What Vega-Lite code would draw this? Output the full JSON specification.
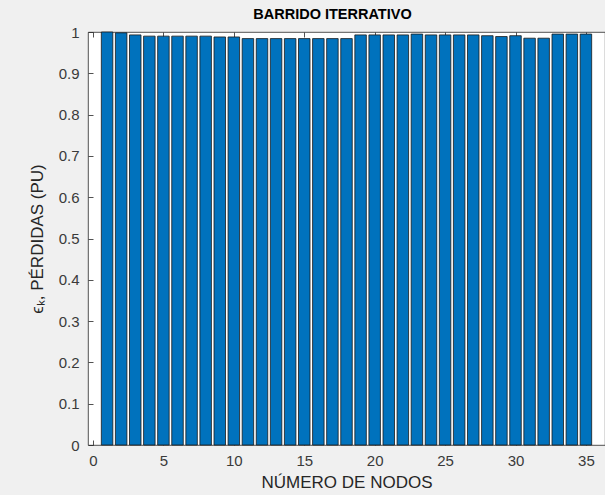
{
  "$schema": "https://vega.github.io/schema/vega-lite/v6.json",
  "autosize": "none",
  "width": 517,
  "height": 413,
  "padding": {"left": 88, "top": 32, "right": 0, "bottom": 50},
  "background": "#f0f0f0",
  "config": {
    "view": {"fill": "white", "stroke": "#262626", "strokeWidth": 0.8},
    "font": "Liberation Sans",
    "axis": {"grid": false, "domain": false, "tickColor": "#262626", "tickWidth": 0.8, "labelColor": "#3a3a3a", "labelFontSize": 15, "titleFontSize": 17, "titleFontWeight": "normal", "titleColor": "#262626"}
  },
  "title": {"text": "BARRIDO ITERRATIVO", "fontSize": 14.5, "fontWeight": "bold", "color": "#000000", "anchor": "middle", "offset": 3, "dx": -14, "font": "Liberation Sans"},
  "data": {"values": [
    {"nodo": 1, "perdidas": 1.0},
    {"nodo": 2, "perdidas": 0.998},
    {"nodo": 3, "perdidas": 0.993},
    {"nodo": 4, "perdidas": 0.99},
    {"nodo": 5, "perdidas": 0.99},
    {"nodo": 6, "perdidas": 0.99},
    {"nodo": 7, "perdidas": 0.99},
    {"nodo": 8, "perdidas": 0.99},
    {"nodo": 9, "perdidas": 0.988},
    {"nodo": 10, "perdidas": 0.988},
    {"nodo": 11, "perdidas": 0.984},
    {"nodo": 12, "perdidas": 0.984},
    {"nodo": 13, "perdidas": 0.984},
    {"nodo": 14, "perdidas": 0.984},
    {"nodo": 15, "perdidas": 0.984},
    {"nodo": 16, "perdidas": 0.984},
    {"nodo": 17, "perdidas": 0.984},
    {"nodo": 18, "perdidas": 0.984},
    {"nodo": 19, "perdidas": 0.993},
    {"nodo": 20, "perdidas": 0.993},
    {"nodo": 21, "perdidas": 0.993},
    {"nodo": 22, "perdidas": 0.993},
    {"nodo": 23, "perdidas": 0.995},
    {"nodo": 24, "perdidas": 0.993},
    {"nodo": 25, "perdidas": 0.993},
    {"nodo": 26, "perdidas": 0.993},
    {"nodo": 27, "perdidas": 0.993},
    {"nodo": 28, "perdidas": 0.991},
    {"nodo": 29, "perdidas": 0.989},
    {"nodo": 30, "perdidas": 0.991},
    {"nodo": 31, "perdidas": 0.985},
    {"nodo": 32, "perdidas": 0.985},
    {"nodo": 33, "perdidas": 0.995},
    {"nodo": 34, "perdidas": 0.995},
    {"nodo": 35, "perdidas": 0.995}
  ]},
  "layer": [
    {
      "mark": {"type": "bar", "width": 11.5, "color": "#0072bd", "stroke": "#1a1a1a", "strokeWidth": 0.8},
      "encoding": {
        "x": {"field": "nodo", "type": "quantitative", "scale": {"domain": [0, 36], "nice": false, "zero": false},
          "axis": {"orient": "bottom", "values": [0, 5, 10, 15, 20, 25, 30, 35], "tickSize": -5, "labelPadding": 13, "title": "NÚMERO DE NODOS", "titlePadding": 6}},
        "y": {"field": "perdidas", "type": "quantitative", "scale": {"domain": [0, 1], "nice": false},
          "axis": {"values": [0, 0.1, 0.2, 0.3, 0.4, 0.5, 0.6, 0.7, 0.8, 0.9, 1], "format": "~g", "tickSize": -5, "labelPadding": 14, "title": "ϵₖ, PÉRDIDAS (PU)", "titlePadding": 12}}
      }
    },
    {
      "mark": {"type": "bar", "opacity": 0},
      "encoding": {
        "x": {"field": "nodo", "type": "quantitative", "scale": {"domain": [0, 36], "nice": false, "zero": false},
          "axis": {"orient": "top", "values": [0, 5, 10, 15, 20, 25, 30, 35], "tickSize": -5, "labels": false, "title": null}}
      }
    }
  ],
  "resolve": {"axis": {"x": "independent"}}
}
